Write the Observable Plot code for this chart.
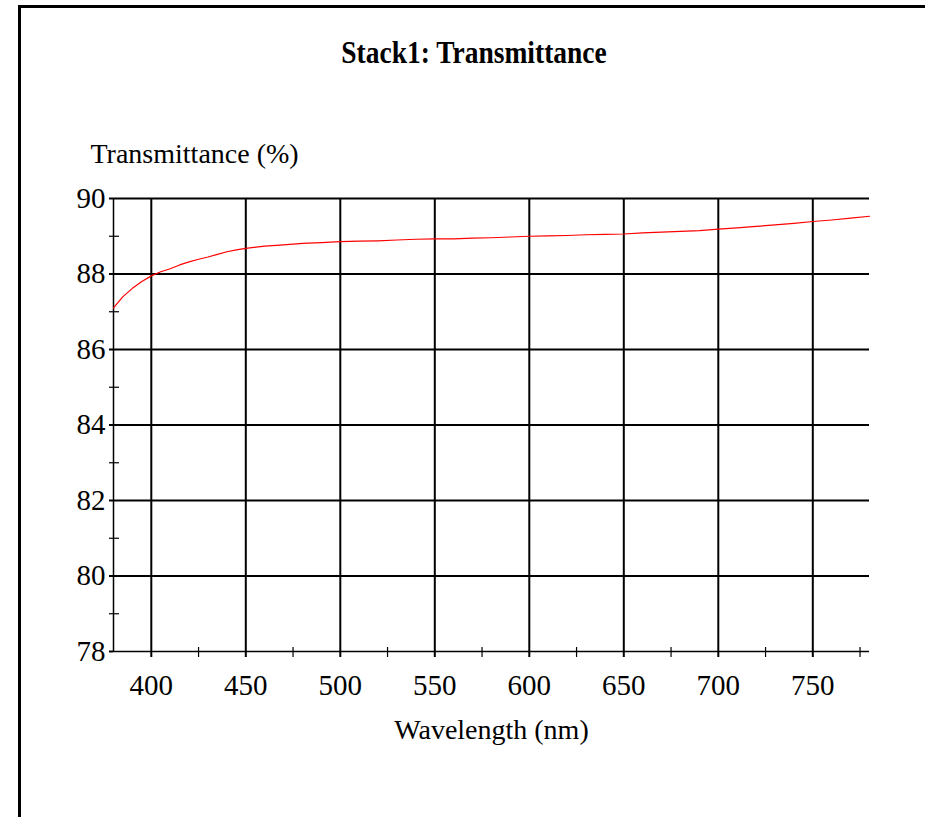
<!DOCTYPE html>
<html>
<head>
<meta charset="utf-8">
<script src="https://cdn.jsdelivr.net/npm/d3@7"></script>
<script src="https://cdn.jsdelivr.net/npm/@observablehq/plot@0.6"></script>
<style>
  html, body { margin: 0; padding: 0; background: #fff; }
  #wrap { position: relative; width: 925px; height: 817px; overflow: hidden; background: #fff;
          font-family: "Liberation Serif", "Times New Roman", serif; }
  #frame { position: absolute; left: 18px; top: 5px; width: 1200px; height: 1200px; z-index: 5;
           border-left: 3px solid #000; border-top: 3px solid #000; box-sizing: border-box; pointer-events: none; }
  #title { position: relative; height: 100px; }
  #title span { position: absolute; left: 474px; top: 38px; transform: translateX(-50%) scaleY(1.12);
                font-weight: bold; font-size: 27.5px; line-height: 30px; white-space: nowrap; color: #000; }
  #chart { position: relative; }
  #chart svg { display: block; }
</style>
</head>
<body>
<div id="wrap">
  <div id="frame"></div>
  <div id="title"><span>Stack1: Transmittance</span></div>
  <div id="chart"></div>
</div>
<script>
// Data
const wavelength = [380,385,390,395,400,405,410,415,420,425,430,435,440,445,450,460,470,480,490,500,510,520,530,540,550,560,570,580,590,600,610,620,630,640,650,660,670,680,690,700,710,720,730,740,750,760,770,780];
const transmittance = [87.10,87.40,87.62,87.80,87.95,88.06,88.14,88.24,88.32,88.39,88.45,88.52,88.59,88.64,88.68,88.74,88.77,88.81,88.83,88.86,88.87,88.88,88.90,88.92,88.93,88.93,88.95,88.96,88.98,89.00,89.01,89.02,89.04,89.05,89.06,89.09,89.11,89.13,89.15,89.19,89.22,89.26,89.30,89.34,89.39,89.43,89.48,89.53];
const xMajorTicks = [400,450,500,550,600,650,700,750];
const xMinorTicks = [425,475,525,575,625,675,725,775];
const yMajorTicks = [78,80,82,84,86,88,90];
const yMinorTicks = [79,81,83,85,87,89];
const yGrid = [80,82,84,86,88,90];
const xLabel = "Wavelength (nm)";
const yLabel = "Transmittance (%)";

const data = wavelength.map((w, i) => ({w, t: transmittance[i]}));
const font = '"Liberation Serif", "Times New Roman", serif';

const chart = Plot.plot({
  width: 925,
  height: 717,
  marginTop: 98,
  marginLeft: 113,
  marginRight: 56,
  marginBottom: 166,
  style: {fontFamily: font, fontSize: "28px", color: "#000", background: "transparent"},
  x: {domain: [380, 780]},
  y: {domain: [78, 90]},
  marks: [
    Plot.gridX(xMajorTicks, {stroke: "#000", strokeOpacity: 1, strokeWidth: 2}),
    Plot.gridY(yGrid, {stroke: "#000", strokeOpacity: 1, strokeWidth: 2}),
    Plot.ruleX([380], {stroke: "#000", strokeWidth: 1.5}),
    Plot.ruleY([78], {stroke: "#000", strokeWidth: 1.5}),
    Plot.axisX(xMajorTicks, {tickSize: 6, tickPadding: 17, strokeWidth: 2, fontSize: 29, label: null, tickFormat: d => String(d)}),
    Plot.axisX(xMinorTicks, {tickSize: 6, text: null, strokeWidth: 1.2, label: null}),
    Plot.axisX(xMinorTicks, {tickSize: -4, text: null, strokeWidth: 1.2, label: null}),
    Plot.axisY(yMajorTicks, {tickSize: 4, tickPadding: 4, strokeWidth: 2, fontSize: 29, label: null, tickFormat: d => String(d)}),
    Plot.axisY(yMinorTicks, {tickSize: 4, text: null, strokeWidth: 1.2, label: null}),
    Plot.axisY(yMinorTicks, {tickSize: -6, text: null, strokeWidth: 1.2, label: null}),
    Plot.line(data, {x: "w", y: "t", stroke: "#ff0000", strokeWidth: 1.2}),
    Plot.text([yLabel], {frameAnchor: "top-left", dx: -23, dy: -36, textAnchor: "start", lineAnchor: "bottom", fontSize: 28, fill: "#000"}),
    Plot.text([xLabel], {frameAnchor: "bottom", dy: 87, lineAnchor: "bottom", fontSize: 28, fill: "#000"})
  ]
});
document.getElementById("chart").appendChild(chart);
</script>
</body>
</html>
